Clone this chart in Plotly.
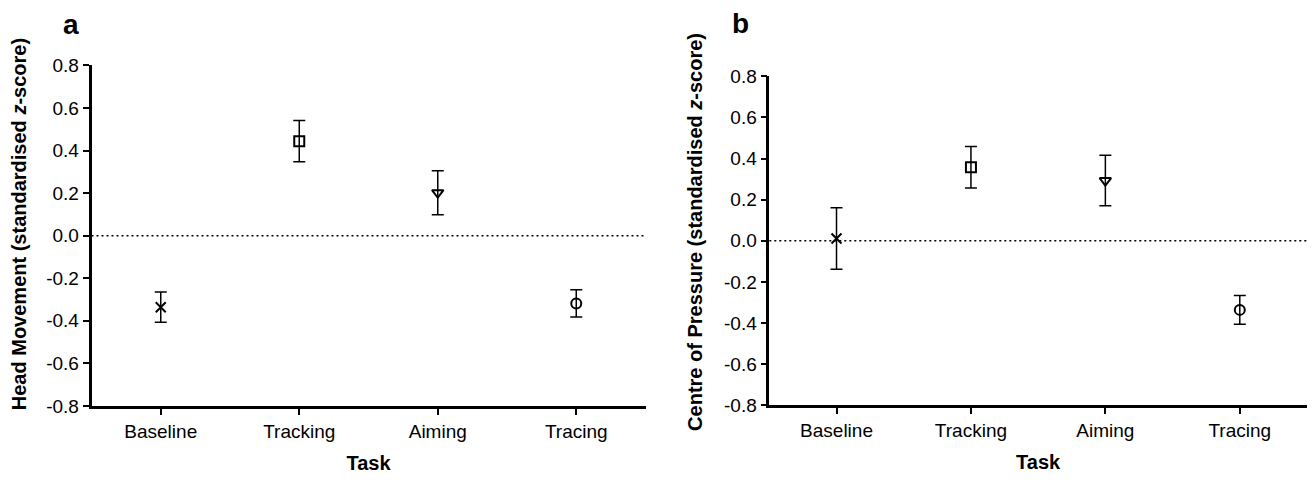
import plotly.graph_objects as go

tasks = ["Baseline", "Tracking", "Aiming", "Tracing"]
symbols = ["x-thin-open", "square-open", "triangle-down-open", "circle-open"]

head_mean = [-0.336, 0.444, 0.202, -0.318]
head_err = [0.071, 0.097, 0.103, 0.064]

cop_mean = [0.011, 0.358, 0.293, -0.336]
cop_err = [0.150, 0.101, 0.123, 0.070]

y_ticks = [-0.8, -0.6, -0.4, -0.2, 0.0, 0.2, 0.4, 0.6, 0.8]
y_ticktext = ["%.1f" % v for v in y_ticks]

W, H = 1314, 482
FONT = "Liberation Sans, Arial, Helvetica, sans-serif"


def px_x(p):
    return p / W


def px_y(p):
    return 1 - p / H


fig = go.Figure()

marker_style = dict(symbol=symbols, size=10, color="black",
                    line=dict(color="black", width=2))

fig.add_trace(go.Scatter(
    x=tasks, y=head_mean, mode="markers", xaxis="x", yaxis="y",
    marker=marker_style,
    error_y=dict(type="data", array=head_err, visible=True,
                 color="black", thickness=1.5, width=6),
    showlegend=False,
))
fig.add_trace(go.Scatter(
    x=tasks, y=cop_mean, mode="markers", xaxis="x2", yaxis="y2",
    marker=marker_style,
    error_y=dict(type="data", array=cop_err, visible=True,
                 color="black", thickness=1.5, width=6),
    showlegend=False,
))

axis_common = dict(
    showgrid=False, zeroline=False, showline=True, linecolor="black",
    linewidth=2.5, ticks="outside", ticklen=6, tickwidth=2, tickcolor="black",
    tickfont=dict(family=FONT, size=19, color="black"),
)
title_font = dict(size=20, family=FONT, color="black")

fig.update_layout(
    width=W, height=H,
    margin=dict(l=0, r=0, t=0, b=0),
    paper_bgcolor="white", plot_bgcolor="white",
    font=dict(family=FONT, color="black"),
    xaxis=dict(axis_common, domain=[px_x(91.5), px_x(645.5)], range=[-0.5, 3.5],
               anchor="y", type="category",
               title=dict(text="<b>Task</b>", font=title_font, standoff=16)),
    yaxis=dict(axis_common, domain=[px_y(414), px_y(58)], range=[-0.8, 0.8],
               anchor="x", tickvals=y_ticks, ticktext=y_ticktext),
    xaxis2=dict(axis_common, domain=[px_x(769.3), px_x(1307)], range=[-0.5, 3.5],
                anchor="y2", type="category",
                title=dict(text="<b>Task</b>", font=title_font, standoff=16)),
    yaxis2=dict(axis_common, domain=[px_y(413.3), px_y(69.3)], range=[-0.8, 0.8],
                anchor="x2", tickvals=y_ticks, ticktext=y_ticktext),
    shapes=[
        dict(type="line", xref="x domain", yref="y", x0=0, x1=1, y0=0, y1=0,
             line=dict(color="black", width=1.5, dash="2px,3px")),
        dict(type="line", xref="x2 domain", yref="y2", x0=0, x1=1, y0=0, y1=0,
             line=dict(color="black", width=1.5, dash="2px,3px")),
    ],
    annotations=[
        dict(text="<b>a</b>", xref="paper", yref="paper", x=px_x(71), y=px_y(15),
             xanchor="center", yanchor="middle",
             showarrow=False, font=dict(size=28, family=FONT, color="black")),
        dict(text="<b>b</b>", xref="paper", yref="paper", x=px_x(740), y=px_y(14),
             xanchor="center", yanchor="middle",
             showarrow=False, font=dict(size=28, family=FONT, color="black")),
        dict(text="<b>Head Movement (standardised <i>z</i>-score)</b>",
             xref="paper", yref="paper", x=px_x(19), y=px_y(224), textangle=-90,
             xanchor="center", yanchor="middle",
             showarrow=False, font=title_font),
        dict(text="<b>Centre of Pressure (standardised <i>z</i>-score)</b>",
             xref="paper", yref="paper", x=px_x(695), y=px_y(232), textangle=-90,
             xanchor="center", yanchor="middle",
             showarrow=False, font=title_font),
    ],
)

fig.write_html("out.html")
